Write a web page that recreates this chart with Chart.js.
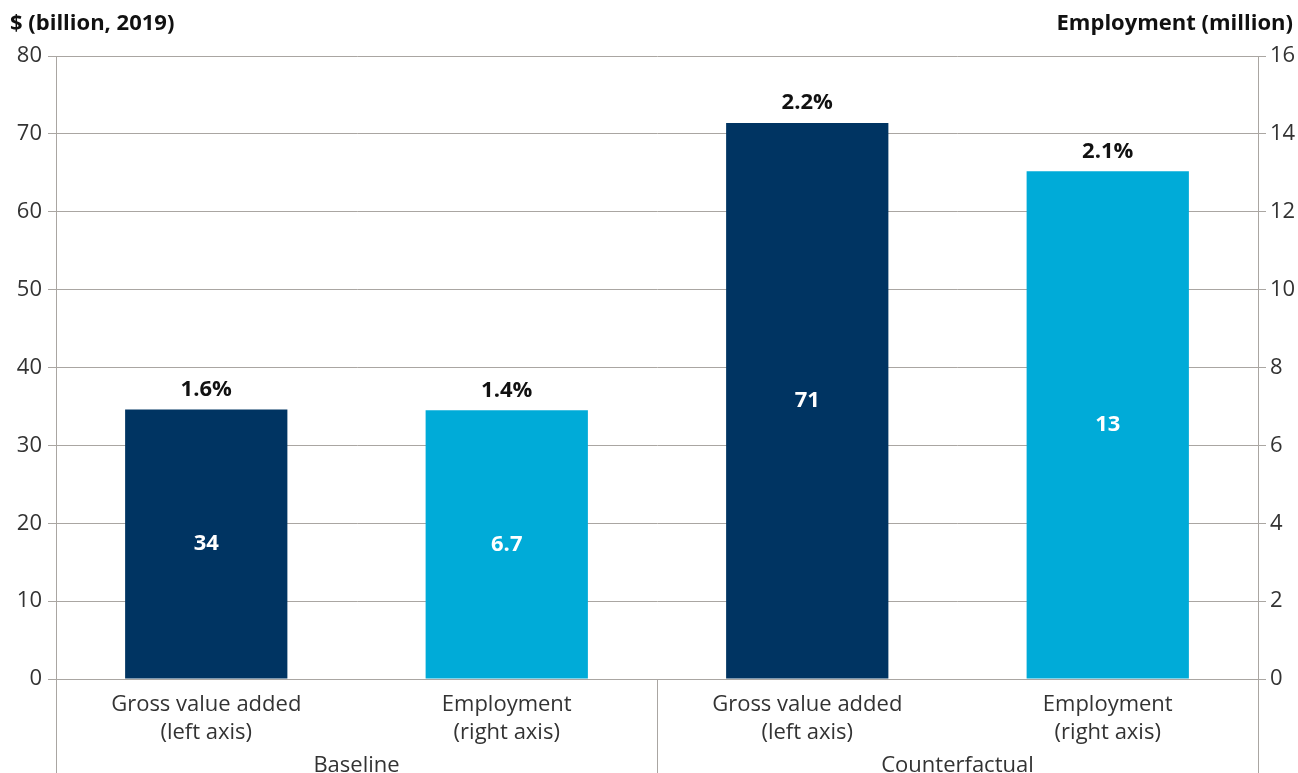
<!DOCTYPE html>
<html>
<head>
<meta charset="utf-8">
<script src="https://cdn.jsdelivr.net/npm/chart.js@4/dist/chart.umd.min.js"></script>
<style>
  html, body { margin: 0; padding: 0; background: #fff; }
  #wrap { width: 1298px; height: 773px; }
</style>
</head>
<body>
<div id="wrap"><canvas id="chart" width="1298" height="773"></canvas></div>
<script>
// categories (two-line labels) and their groups
const categories = [
    ['Gross value added', '(left axis)'],
    ['Employment', '(right axis)'],
    ['Gross value added', '(left axis)'],
    ['Employment', '(right axis)'],
];
const groups = ['Baseline', 'Counterfactual'];

// series values: GVA on the left axis, employment on the right axis
const gvaValues = [34.6, null, 71.4, null];
const employmentValues = [null, 6.9, null, 13.04];

// printed labels
const valueLabels = ['34', '6.7', '71', '13'];
const shareLabels = ['1.6%', '1.4%', '2.2%', '2.1%'];

// axis titles and ranges
const leftTitle = '$ (billion, 2019)';
const rightTitle = 'Employment (million)';
const leftMax = 80, leftStep = 10;
const rightMax = 16, rightStep = 2;

const NAVY = '#003462';
const CYAN = '#00abd8';
const GRID = '#aaa6a2';
const FONT = '"Open Sans", sans-serif';

const overlay = {
    id: 'overlay',
    afterDraw(chart) {
        const { ctx, chartArea } = chart;
        ctx.save();

        // axis titles
        ctx.fillStyle = '#111';
        ctx.font = 'bold 22px ' + FONT;
        ctx.textBaseline = 'middle';
        ctx.textAlign = 'left';
        ctx.fillText(leftTitle, 10, 24);
        ctx.textAlign = 'right';
        ctx.fillText(rightTitle, 1293, 24);

        // labels on bars
        chart.data.datasets.forEach((ds, di) => {
            chart.getDatasetMeta(di).data.forEach((bar, i) => {
                if (ds.data[i] == null) return;
                ctx.textAlign = 'center';
                ctx.textBaseline = 'middle';
                ctx.font = 'bold 22px ' + FONT;
                ctx.fillStyle = '#fff';
                ctx.fillText(valueLabels[i], bar.x, (bar.y + bar.base) / 2);
                ctx.fillStyle = '#111';
                ctx.fillText(shareLabels[i], bar.x, bar.y - 20);
            });
        });

        // group separators below the x axis
        const step = (chartArea.right - chartArea.left) / groups.length;
        ctx.strokeStyle = GRID;
        ctx.lineWidth = 1;
        for (let g = 0; g <= groups.length; g++) {
            const gx = Math.round(chartArea.left + g * step) + 0.5;
            ctx.beginPath();
            ctx.moveTo(gx, chartArea.bottom);
            ctx.lineTo(gx, chart.height);
            ctx.stroke();
        }

        // group labels
        ctx.fillStyle = '#333';
        ctx.font = '22px ' + FONT;
        ctx.textAlign = 'center';
        ctx.textBaseline = 'middle';
        groups.forEach((name, g) => {
            ctx.fillText(name, chartArea.left + (g + 0.5) * step, 766);
        });
        ctx.restore();
    }
};

new Chart(document.getElementById('chart'), {
    type: 'bar',
    data: {
        labels: categories,
        datasets: [
            {
                label: 'Gross value added',
                data: gvaValues,
                backgroundColor: NAVY,
                yAxisID: 'y',
                grouped: false,
            },
            {
                label: 'Employment',
                data: employmentValues,
                backgroundColor: CYAN,
                yAxisID: 'y1',
                grouped: false,
            },
        ],
    },
    options: {
        responsive: false,
        animation: false,
        layout: { padding: { top: 56, left: 0, right: 0, bottom: 0 } },
        datasets: { bar: { barPercentage: 0.54, categoryPercentage: 1 } },
        plugins: {
            legend: { display: false },
            tooltip: { enabled: false },
        },
        scales: {
            x: {
                grid: { display: false },
                border: { display: true, color: GRID },
                ticks: {
                    color: '#333',
                    padding: 3,
                    font: { family: FONT, size: 22, lineHeight: 1.3 },
                    maxRotation: 0,
                },
                afterFit(scale) { scale.height = 94; },
            },
            y: {
                position: 'left',
                min: 0,
                max: leftMax,
                ticks: {
                    stepSize: leftStep,
                    color: '#333',
                    padding: 6,
                    font: { family: FONT, size: 22 },
                },
                grid: { color: GRID, tickLength: 8 },
                border: { display: true, color: GRID },
                afterFit(scale) { scale.width = 56; },
            },
            y1: {
                position: 'right',
                min: 0,
                max: rightMax,
                ticks: {
                    stepSize: rightStep,
                    color: '#333',
                    padding: 4,
                    font: { family: FONT, size: 22 },
                },
                grid: { color: GRID, tickLength: 8, drawOnChartArea: false },
                border: { display: true, color: GRID },
                afterFit(scale) { scale.width = 40; },
            },
        },
    },
    plugins: [overlay],
});
</script>
</body>
</html>
